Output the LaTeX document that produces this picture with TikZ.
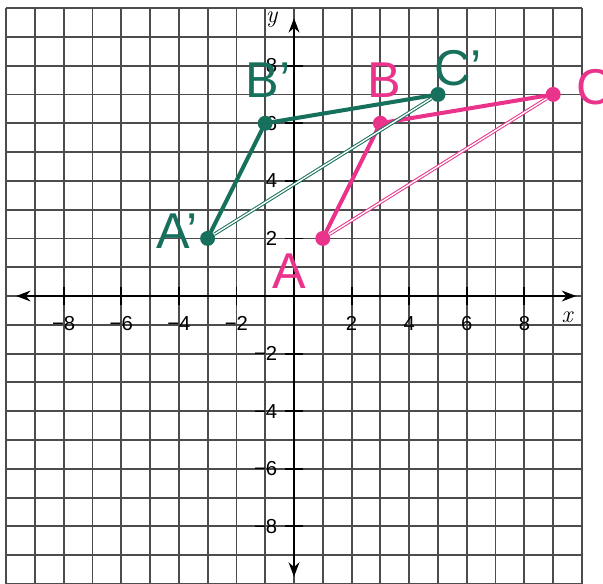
\documentclass[tikz,border=0pt]{standalone}
\usepackage{fontspec}
\setsansfont{Liberation Sans}
\usepackage{tikz}
\usetikzlibrary{arrows.meta}
\definecolor{pinkpen}{RGB}{234,52,140}
\definecolor{tealpen}{RGB}{22,112,92}

\begin{document}
\begin{tikzpicture}
[
    x = 0.5cm, y = 0.5cm,
    grid/.style={draw=black!70, line width = 0.9pt},
    axis/.style={draw, -{Stealth[length=2.5mm]}, line width = 1pt},
    tick/.style={line width = 0.9pt},
    num/.style={font=\sffamily\normalsize, inner sep = 1pt},
    dot/.style={circle, fill, minimum size = 2.6mm, inner sep = 0pt},
    hand/.style={font=\sffamily\Huge, inner sep = 0pt},
    thickpen/.style={line width = 2pt, line cap = round},
    thinpen/.style={line width = 0.5pt, double = white, double distance = 0.7pt},
]
\useasboundingbox (-10.21,-10) rectangle (10.73,10.28);

% Grid paper
\foreach \k in {-10,...,10} {
    \draw[grid] (\k,-10) -- (\k,10);
    \draw[grid] (-10,\k) -- (10,\k);
}

% Axes
\coordinate (xl) at (-9.65,0);
\coordinate (xr) at (9.8,0);
\coordinate (yb) at (0,-9.75);
\coordinate (yt) at (0,9.65);
\draw[axis] (0,0) -- (xr);
\draw[axis] (0,0) -- (xl);
\draw[axis] (0,0) -- (yt);
\draw[axis] (0,0) -- (yb);
\node[num, font=\rmfamily\itshape\large] (xlab) at (9.48,-0.75) {x};
\node[num, font=\rmfamily\itshape\large] (ylab) at (-0.78,9.6) {y};

% Ticks and numbers
\foreach \v in {-8,-6,-4,-2,2,4,6,8} {
    \draw[tick] (\v,-0.3) -- (\v,0.3);
    \draw[tick] (-0.3,\v) -- (0.3,\v);
    \node[num] (xn\v) at (\v,-0.95) {\ifnum\v<0 −\the\numexpr-\v\relax\else\v\fi};
    \node[num, anchor=east] (yn\v) at (-0.5,\v) {\ifnum\v<0 −\the\numexpr-\v\relax\else\v\fi};
}

% Triangle ABC
\node[dot, pinkpen] (A) at (1,2) {};
\node[dot, pinkpen] (B) at (3,6) {};
\node[dot, pinkpen] (C) at (9,7) {};
\draw[thickpen, pinkpen] (A) -- (B) -- (C);
\draw[thinpen, pinkpen] (A) -- (C);

% Triangle A'B'C'
\node[dot, tealpen] (A') at (-3,2) {};
\node[dot, tealpen] (B') at (-1,6) {};
\node[dot, tealpen] (C') at (5,7) {};
\draw[thickpen, tealpen] (A') -- (B') -- (C');
\draw[thinpen, tealpen] (A') -- (C');

% Handwritten labels
\node[hand, pinkpen] (Alab) at (-0.17,0.85) {A};
\node[hand, pinkpen] (Blab) at (3.13,7.5) {B};
\node[hand, pinkpen] (Clab) at (10.45,7.25) {C};
\node[hand, tealpen] (A'lab) at (-4.05,2.25) {A'};
\node[hand, tealpen] (B'lab) at (-0.9,7.5) {B'};
\node[hand, tealpen] (C'lab) at (5.7,7.9) {C'};
\end{tikzpicture}
\end{document}
